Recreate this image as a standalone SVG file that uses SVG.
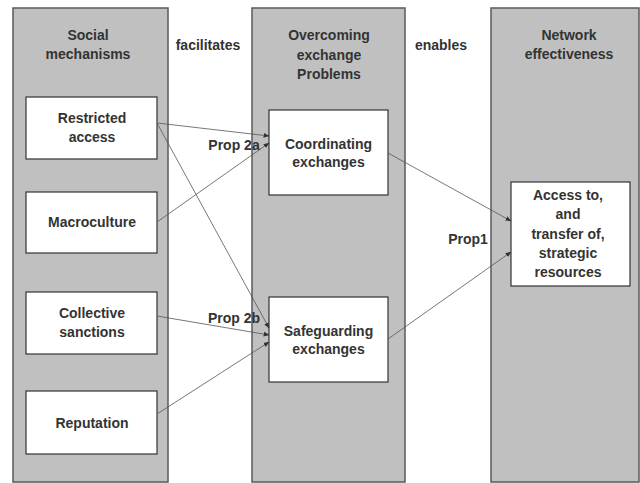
<svg xmlns="http://www.w3.org/2000/svg" width="640" height="483" viewBox="0 0 640 483">
<style>
.panel{fill:#c0c0c0;stroke:#5a5a5a;stroke-width:1.5}
.box{fill:#fff;stroke:#333;stroke-width:1.2}
text{font-family:"Liberation Sans",Arial,sans-serif;font-size:14px;font-weight:bold;fill:#333;text-anchor:middle}
.c{fill:none;stroke:#555;stroke-width:0.8;marker-end:url(#ah)}
</style>
<defs>
<marker id="ah" viewBox="0 0 10 10" refX="9" refY="5" markerWidth="6" markerHeight="6" markerUnits="userSpaceOnUse" orient="auto">
<path d="M0,1 L10,5 L0,9 Z" fill="#333"/>
</marker>
</defs>
<rect width="640" height="483" fill="#fff"/>
<g id="panel-social"><rect class="panel" x="13" y="8" width="155" height="474"/><text x="88" y="40">Social</text><text x="88" y="59">mechanisms</text></g>
<g id="panel-overcoming"><rect class="panel" x="252" y="8" width="153" height="474"/><text x="329" y="40">Overcoming</text><text x="329" y="59.5">exchange</text><text x="329" y="79">Problems</text></g>
<g id="panel-network"><rect class="panel" x="491" y="8" width="148" height="474"/><text x="569" y="40">Network</text><text x="569" y="59">effectiveness</text></g>
<g id="label-facilitates"><text x="208" y="50">facilitates</text></g>
<g id="label-enables"><text x="441" y="50">enables</text></g>
<g id="node-restricted"><rect class="box" x="26" y="97" width="131" height="62"/><text x="92" y="123">Restricted</text><text x="92" y="142">access</text></g>
<g id="node-macroculture"><rect class="box" x="26" y="192" width="131" height="61"/><text x="92" y="227">Macroculture</text></g>
<g id="node-collective"><rect class="box" x="26" y="292" width="131" height="62"/><text x="92" y="318">Collective</text><text x="92" y="337">sanctions</text></g>
<g id="node-reputation"><rect class="box" x="26" y="391" width="131" height="63"/><text x="92" y="428">Reputation</text></g>
<g id="node-coordinating"><rect class="box" x="269" y="110" width="119" height="85"/><text x="328.5" y="149">Coordinating</text><text x="328.5" y="167">exchanges</text></g>
<g id="node-safeguarding"><rect class="box" x="269" y="297" width="119" height="85"/><text x="328.5" y="336">Safeguarding</text><text x="328.5" y="354">exchanges</text></g>
<g id="node-access"><rect class="box" x="511" y="182" width="119" height="104"/><text x="568" y="200">Access to,</text><text x="568" y="219">and</text><text x="568" y="239">transfer of,</text><text x="568" y="258">strategic</text><text x="568" y="277">resources</text></g>
<g id="connectors">
<line class="c" x1="157" y1="123" x2="269" y2="136"/>
<line class="c" x1="157" y1="123" x2="269" y2="328"/>
<line class="c" x1="157" y1="222" x2="269" y2="143"/>
<line class="c" x1="157" y1="316" x2="269" y2="335"/>
<line class="c" x1="157" y1="414" x2="269" y2="342"/>
<line class="c" x1="388" y1="153" x2="511" y2="221"/>
<line class="c" x1="388" y1="339" x2="511" y2="252"/>
</g>
<g id="labels">
<text x="234" y="150">Prop 2a</text>
<text x="234" y="323">Prop 2b</text>
<text x="468" y="244">Prop1</text>
</g>
</svg>
